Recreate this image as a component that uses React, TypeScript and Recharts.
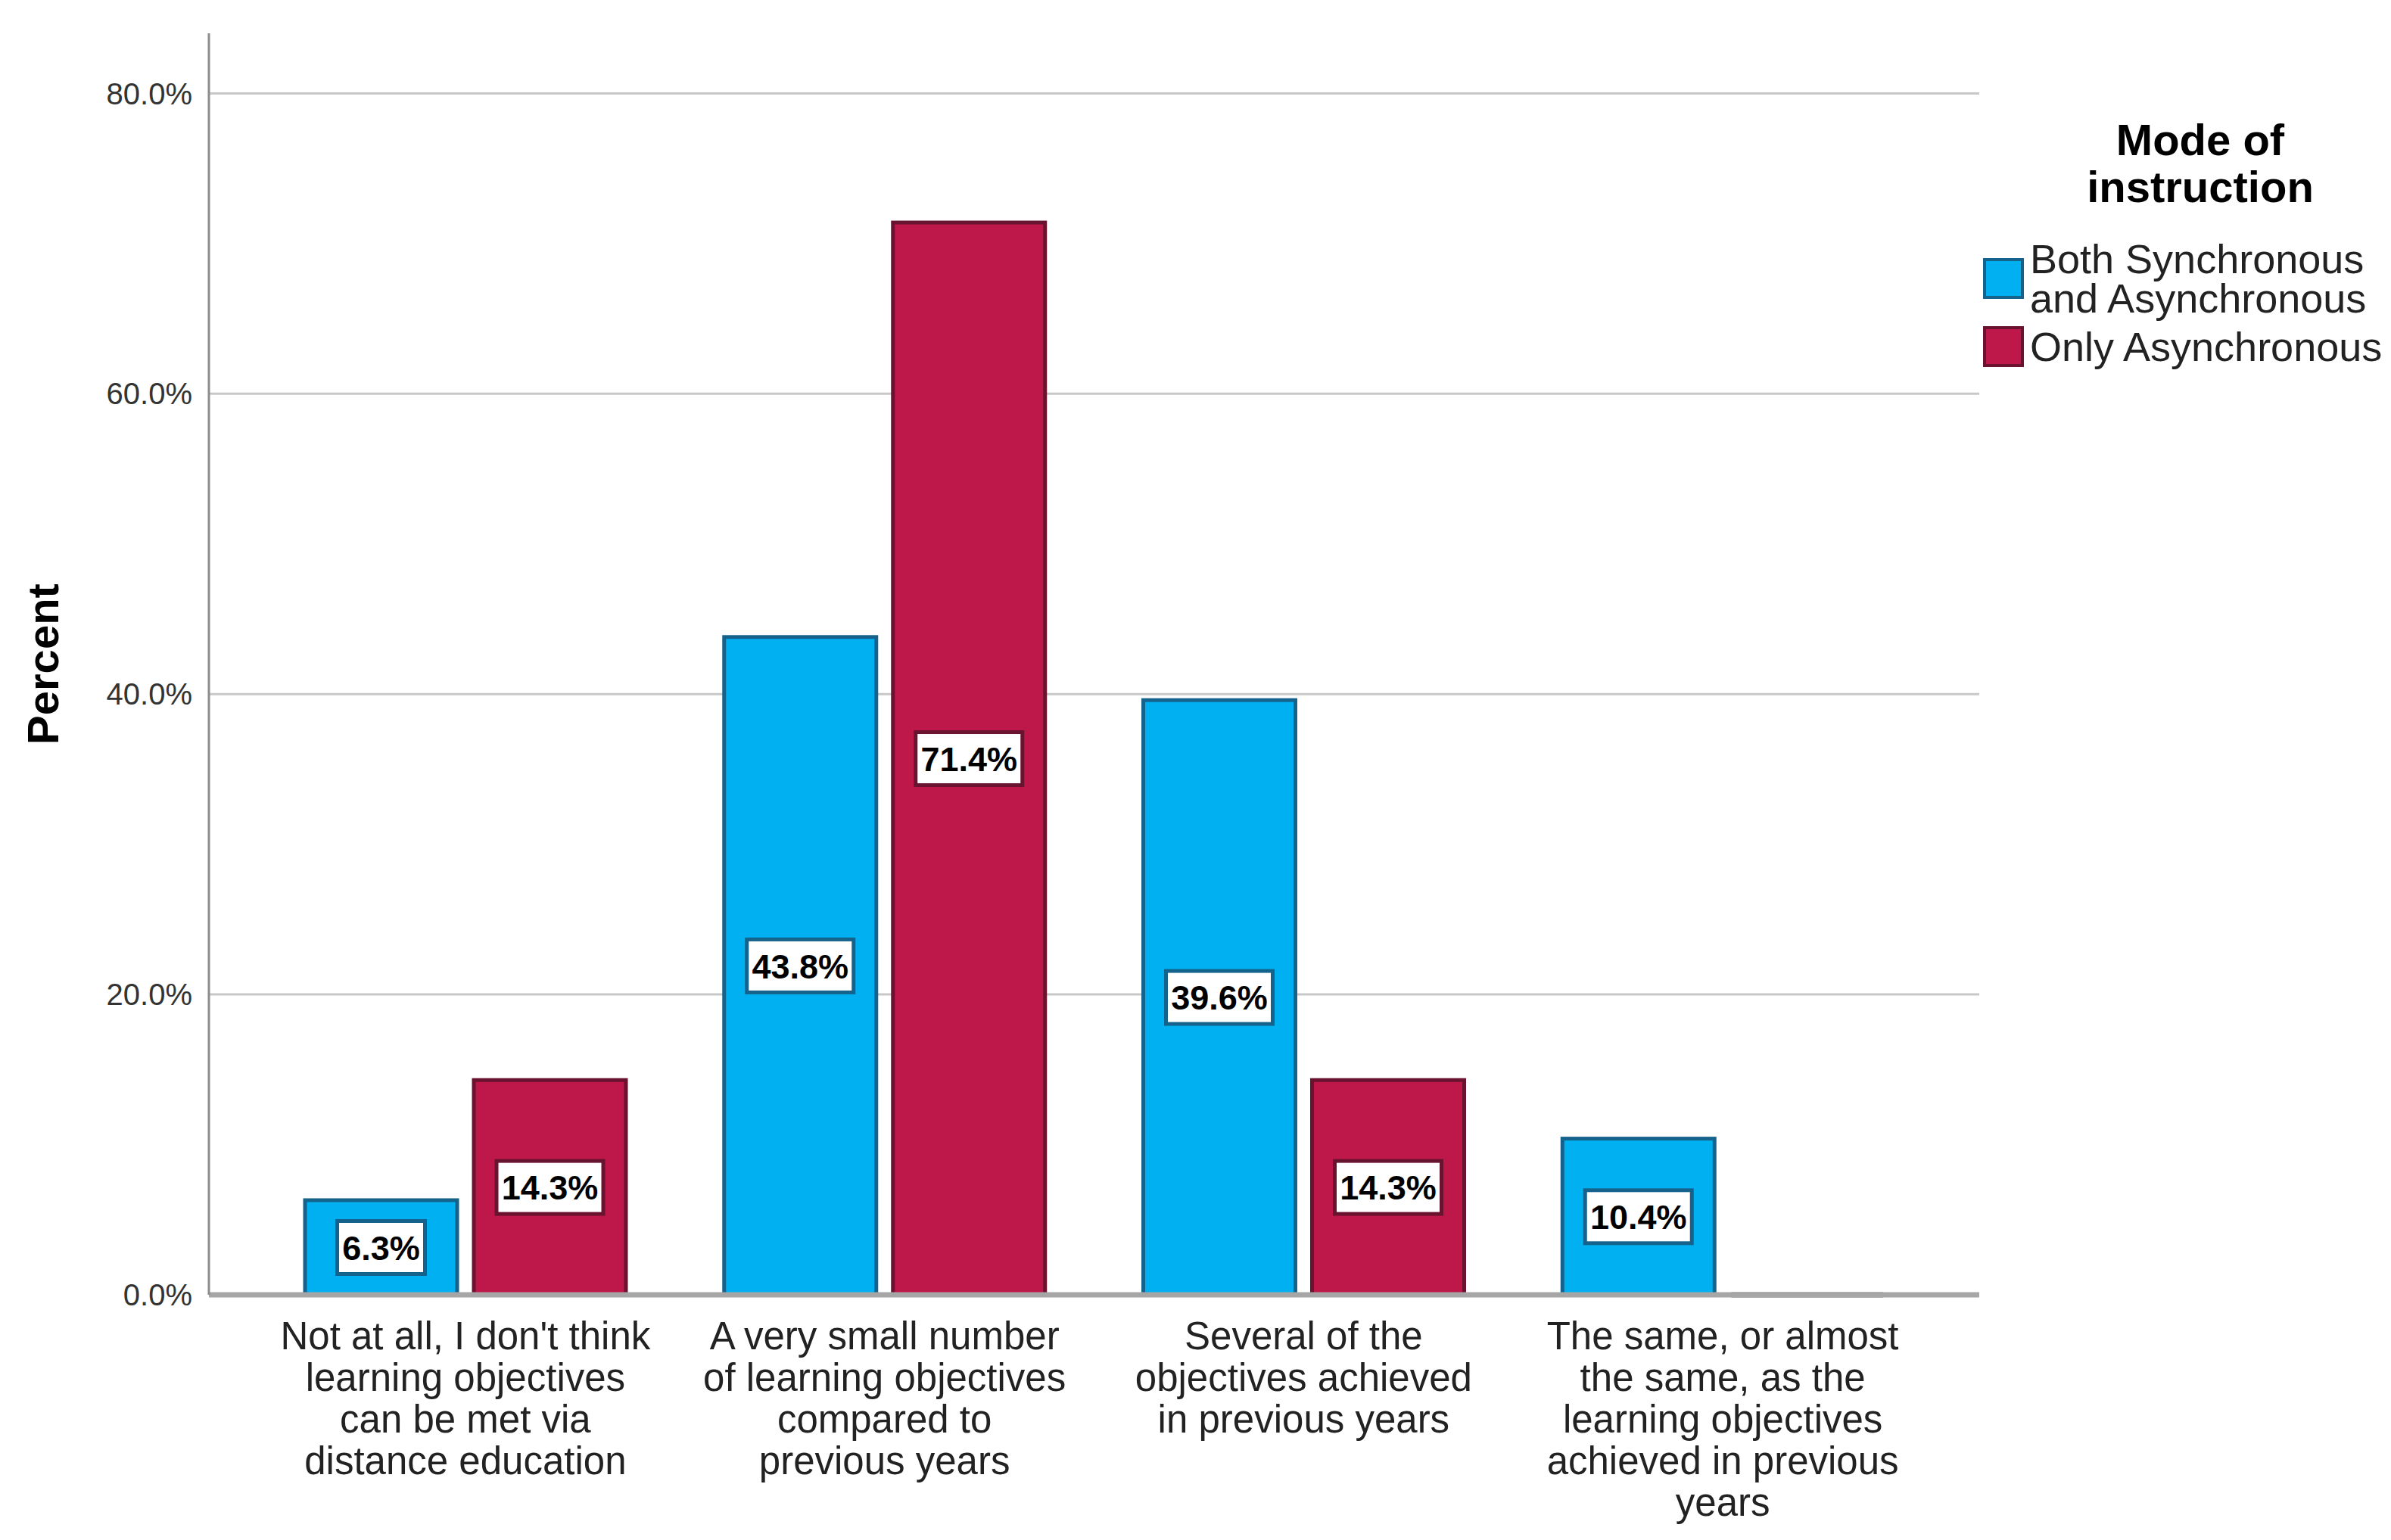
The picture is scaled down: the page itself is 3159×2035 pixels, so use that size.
import React from 'react';
import {
  BarChart,
  Bar,
  XAxis,
  YAxis,
  CartesianGrid,
  Legend,
  LabelList,
} from 'recharts';

const categories = [
  "Not at all, I don't think\nlearning objectives\ncan be met via\ndistance education",
  'A very small number\nof learning objectives\ncompared to\nprevious years',
  'Several of the\nobjectives achieved\nin previous years',
  'The same, or almost\nthe same, as the\nlearning objectives\nachieved in previous\nyears',
];
const bothSyncAsync = [6.3, 43.8, 39.6, 10.4];
const onlyAsync = [14.3, 71.4, 14.3, 0];
const yTicks = [0, 20, 40, 60, 80];

const FONT = '"Liberation Sans", Arial, sans-serif';
const BLUE = '#00b0f0';
const BLUE_EDGE = '#15628c';
const RED = '#bd1849';
const RED_EDGE = '#6a1330';

const data = categories.map((c, i) => ({
  category: c,
  both: bothSyncAsync[i],
  only: onlyAsync[i],
}));

function CategoryTick(props: any) {
  const { x, y, payload } = props;
  const lines = String(payload.value).split('\n');
  return (
    <text x={x} y={y + 72} textAnchor="middle" fontSize={51} fill="#222" fontFamily={FONT}>
      {lines.map((l, i) => (
        <tspan key={i} x={x} dy={i === 0 ? 0 : 55}>
          {l}
        </tspan>
      ))}
    </text>
  );
}

function BarShape(props: any) {
  const { x, y, width, height, fill, stroke } = props;
  if (!height) {
    return <line x1={x} x2={x + width} y1={y} y2={y} stroke="#7a7a7a" strokeWidth={7} />;
  }
  return (
    <rect x={x} y={y} width={width} height={height} fill={fill} stroke={stroke} strokeWidth={5} />
  );
}

const makeLabel = (edge: string) => (props: any) => {
  const { x, y, width, height, value } = props;
  if (!value) return null;
  const text = `${Number(value).toFixed(1)}%`;
  const w = text.length * 25 + 16;
  const h = 70;
  const cx = x + width / 2;
  const cy = y + height / 2;
  return (
    <g>
      <rect x={cx - w / 2} y={cy - h / 2} width={w} height={h} fill="#fff" stroke={edge} strokeWidth={5} />
      <text x={cx} y={cy} dy="0.36em" textAnchor="middle" fontSize={45} fontWeight="bold" fill="#000" fontFamily={FONT}>
        {text}
      </text>
    </g>
  );
};

function LegendBox(props: any) {
  const payload = props.payload || [];
  return (
    <div style={{ fontFamily: FONT }}>
      <div
        style={{
          width: 574,
          textAlign: 'center',
          fontWeight: 'bold',
          fontSize: 58,
          lineHeight: '62px',
          color: '#000',
          marginBottom: 38,
        }}
      >
        Mode of
        <br />
        instruction
      </div>
      {payload.map((p: any, i: number) => (
        <div key={i} style={{ display: 'flex', alignItems: 'center', marginBottom: 11 }}>
          <div
            style={{
              width: 46,
              height: 46,
              background: p.color,
              border: `4px solid ${i === 0 ? BLUE_EDGE : RED_EDGE}`,
              marginRight: 8,
              flex: 'none',
            }}
          />
          <div style={{ fontSize: 54, lineHeight: '52px', color: '#222', whiteSpace: 'pre' }}>
            {p.value}
          </div>
        </div>
      ))}
    </div>
  );
}

export default function App() {
  return (
    <div style={{ position: 'absolute', left: 0, top: 0, background: '#fff', fontFamily: FONT }}>
      <BarChart
        width={3159}
        height={2035}
        data={data}
        margin={{ top: 44, right: 544, left: 0, bottom: 0 }}
        barGap={22}
        barSize={201}
      >
        <CartesianGrid vertical={false} stroke="#c8c8c8" strokeWidth={3} syncWithTicks />
        <XAxis
          dataKey="category"
          interval={0}
          height={324}
          padding={{ left: 62, right: 62 }}
          tickLine={false}
          tickSize={0}
          tickMargin={0}
          axisLine={{ stroke: '#a6a6a6', strokeWidth: 7 }}
          tick={<CategoryTick />}
        />
        <YAxis
          width={276}
          domain={[0, 84]}
          ticks={yTicks}
          tickFormatter={(v: number) => `${v.toFixed(1)}%`}
          tickLine={false}
          tickSize={0}
          tickMargin={22}
          axisLine={{ stroke: '#8c8c8c', strokeWidth: 3 }}
          tick={{ fontSize: 40, fill: '#333', fontFamily: FONT }}
          label={({ viewBox }: any) => (
            <text
              x={56}
              y={viewBox.y + viewBox.height / 2}
              transform={`rotate(-90, 56, ${viewBox.y + viewBox.height / 2})`}
              textAnchor="middle"
              dominantBaseline="central"
              fontSize={58}
              fontWeight="bold"
              fill="#000"
              fontFamily={FONT}
            >
              Percent
            </text>
          )}
        />
        <Legend
          layout="vertical"
          align="center"
          verticalAlign="middle"
          content={<LegendBox />}
          wrapperStyle={{ left: 2620, top: 154, width: 539 }}
        />
        <Bar
          dataKey="both"
          name={'Both Synchronous\nand Asynchronous'}
          fill={BLUE}
          stroke={BLUE_EDGE}
          shape={<BarShape />}
          isAnimationActive={false}
        >
          <LabelList dataKey="both" content={makeLabel(BLUE_EDGE)} />
        </Bar>
        <Bar
          dataKey="only"
          name="Only Asynchronous"
          fill={RED}
          stroke={RED_EDGE}
          shape={<BarShape />}
          isAnimationActive={false}
        >
          <LabelList dataKey="only" content={makeLabel(RED_EDGE)} />
        </Bar>
      </BarChart>
    </div>
  );
}
